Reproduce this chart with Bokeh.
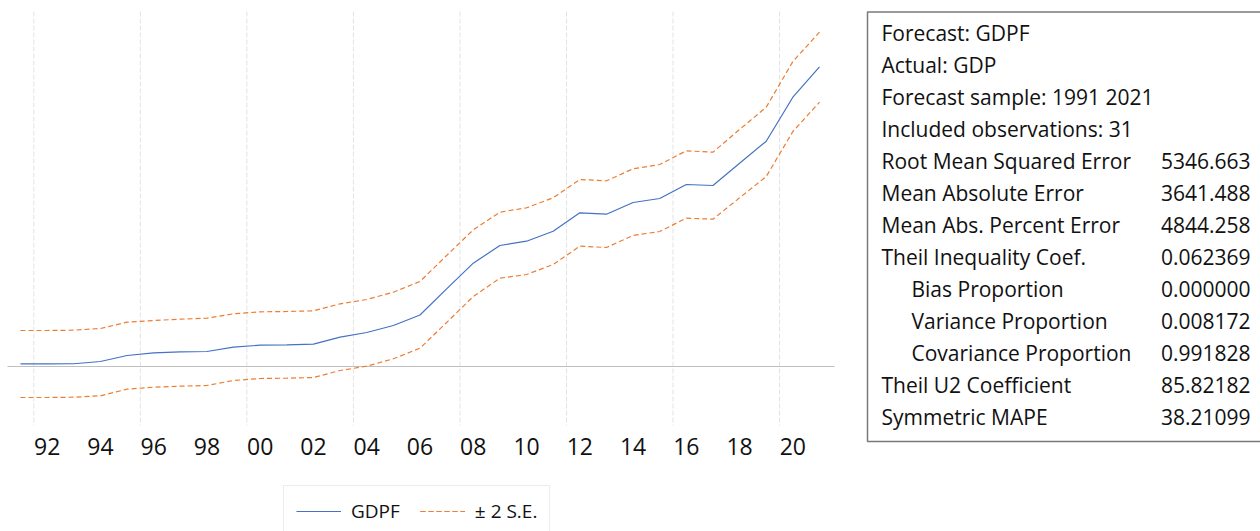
from bokeh.plotting import figure
from bokeh.models import Range1d, ColumnDataSource
from bokeh.core.properties import value
from bokeh.embed import file_html
from bokeh.resources import INLINE

# ---------------- data ----------------
years = list(range(1991, 2022))
gdpf = [860, 860, 880, 1600, 3520, 4380, 4700, 4800, 6180, 6820, 6940, 7140, 9380,
        10880, 13120, 16480, 24860, 33060, 38720, 40100, 43300, 49180, 48740, 52480,
        53760, 58240, 57920, 65060, 72100, 86180, 95900]
se_upper = [11520, 11520, 11620, 12160, 14180, 14720, 15140, 15460, 16860, 17500, 17600,
            17820, 20060, 21440, 23780, 27200, 35520, 43740, 49380, 50780, 53980, 59840,
            59420, 63260, 64640, 69020, 68580, 75840, 82980, 97600, 106980]
se_lower = [-9920, -9920, -9820, -9380, -7260, -6620, -6300, -6080, -4480, -3840, -3740,
            -3520, -1280, 100, 2460, 5860, 14080, 22400, 28260, 29440, 32640, 38500,
            38080, 41920, 43200, 47460, 47140, 53980, 60800, 75200, 84580]
tick_years = list(range(1992, 2021, 2))
tick_labels = ["92", "94", "96", "98", "00", "02", "04", "06", "08", "10", "12", "14",
               "16", "18", "20"]
grid_years = [1991.5, 1995.5, 1999.5, 2003.5, 2007.5, 2011.5, 2015.5, 2019.5]

stat_labels = ["Forecast: GDPF", "Actual: GDP", "Forecast sample: 1991 2021",
               "Included observations: 31", "Root Mean Squared Error",
               "Mean Absolute Error", "Mean Abs. Percent Error",
               "Theil Inequality Coef.", "Bias Proportion", "Variance Proportion",
               "Covariance Proportion", "Theil U2 Coefficient", "Symmetric MAPE"]
stat_values = ["", "", "", "", "5346.663", "3641.488", "4844.258", "0.062369",
               "0.000000", "0.008172", "0.991828", "85.82182", "38.21099"]

FONT = "Open Sans"

# ---------------- layout (page pixels; Bokeh's page has no body margin) ----------------
W, H = 1260, 531
CH_LEFT, CH_RIGHT = 7, 834          # chart area
CH_TOP, CH_BOTTOM, CH_ZERO = 11, 425, 366
PX_PER_YEAR = 26.633
X_FIRST = 20                        # page x of first year
VAL_PER_PX = 320.0

yr_start = years[0] - X_FIRST / PX_PER_YEAR
yr_end = yr_start + W / PX_PER_YEAR
val_start = -(H - CH_ZERO) * VAL_PER_PX
val_end = CH_ZERO * VAL_PER_PX

p = figure(width=W, height=H, output_backend="svg", toolbar_location=None, title=None,
           x_range=Range1d(0, W), y_range=Range1d(H, 0),
           x_axis_location=None, y_axis_location=None,
           min_border_left=0, min_border_right=0, min_border_top=0, min_border_bottom=0)
p.extra_x_ranges = {"yr": Range1d(yr_start, yr_end)}
p.extra_y_ranges = {"val": Range1d(val_start, val_end)}
p.outline_line_color = None
p.grid.visible = False
p.background_fill_color = "white"
p.border_fill_color = "white"

# vertical dashed grid lines (in chart area)
p.segment(x0=grid_years, x1=grid_years, y0=[CH_TOP] * len(grid_years),
          y1=[CH_BOTTOM] * len(grid_years), x_range_name="yr",
          line_color="#e3e3e3", line_dash="5 2", line_width=1)

# zero line
p.segment(x0=[CH_LEFT], x1=[CH_RIGHT], y0=[0], y1=[0], y_range_name="val",
          line_color="#bfbfbf", line_width=1)

# series
src = ColumnDataSource(dict(x=years, f=gdpf, up=se_upper, lo=se_lower))
p.line("x", "f", source=src, x_range_name="yr", y_range_name="val",
       line_color="#4472c4", line_width=1.2, legend_label="GDPF")
p.line("x", "up", source=src, x_range_name="yr", y_range_name="val",
       line_color="#ed7d31", line_width=1.2, line_dash="5 3", legend_label="± 2 S.E.")
p.line("x", "lo", source=src, x_range_name="yr", y_range_name="val",
       line_color="#ed7d31", line_width=1.2, line_dash="5 3", legend_label="± 2 S.E.")

# x tick labels
p.text(x=tick_years, y=[446] * len(tick_years), text=tick_labels, x_range_name="yr",
       text_font=value(FONT), text_font_size="23px", text_align="center",
       text_baseline="alphabetic", text_color="#111111")

# legend
lg = p.legend[0]
lg.orientation = "horizontal"
lg.location = (283, -6)
lg.border_line_color = "#d9d9d9"
lg.border_line_width = 1
lg.background_fill_color = "white"
lg.background_fill_alpha = 1
lg.label_text_font = FONT
lg.label_text_font_size = "19px"
lg.label_text_color = "#111111"
lg.glyph_width = 45
lg.glyph_height = 20
lg.label_standoff = 10
lg.spacing = 20
lg.padding = 12
lg.margin = 0

# ---------------- statistics table ----------------
p.quad(left=[867], right=[1300], top=[11.5], bottom=[441], fill_color=None,
       line_color="#7a7a7a", line_width=1.5)

indented = {"Bias Proportion", "Variance Proportion", "Covariance Proportion"}
row_y = [32 + i * 32.08 for i in range(len(stat_labels))]
lab_x = [911 if s in indented else 881 for s in stat_labels]
p.text(x=lab_x, y=row_y, text=stat_labels, text_font=value(FONT), text_font_size="21px",
       text_baseline="alphabetic", text_align="left", text_color="#111111")
p.text(x=[1250] * len(stat_values), y=row_y, text=stat_values, text_font=value(FONT),
       text_font_size="21px", text_baseline="alphabetic", text_align="right",
       text_color="#111111")

open("out.html", "w").write(file_html(p, INLINE))
